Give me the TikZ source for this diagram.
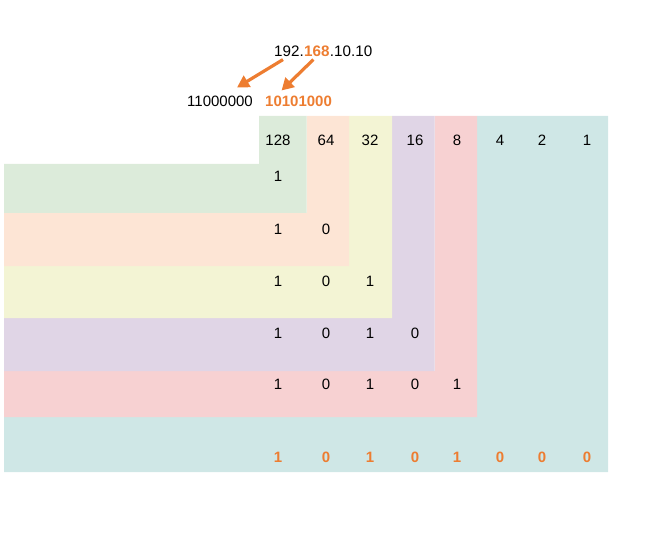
\documentclass[tikz,border=0pt]{standalone}
\usepackage{fontspec}
\setmainfont{Liberation Sans}
\usetikzlibrary{arrows.meta, positioning}

\definecolor{hlorange}{RGB}{237,125,49}
\definecolor{bandgreen}{RGB}{220,235,218}
\definecolor{bandpeach}{RGB}{253,229,213}
\definecolor{bandyellow}{RGB}{243,244,212}
\definecolor{bandpurple}{RGB}{224,213,230}
\definecolor{bandred}{RGB}{247,209,210}
\definecolor{bandteal}{RGB}{207,231,230}

\begin{document}
\begin{tikzpicture}[x=1pt, y=-1pt,
    ipnum/.style={inner sep=0pt, font=\fontsize{15.2}{18}\selectfont},
    binnum/.style={inner sep=0pt, font=\fontsize{15}{18}\selectfont},
    cell/.style={font=\fontsize{15}{18}\selectfont},
    hl/.style={text=hlorange},
    convarrow/.style={draw=hlorange, line width=3.2pt, -{Triangle[length=12pt,width=13pt]}}]
    \useasboundingbox (0,0) rectangle (653,556);

    % colour bands, outermost first
    \fill[bandteal] (477,116) -- (608,116) -- (608,472) -- (4,472) -- (4,417) -- (477,417) -- cycle;
    \fill[bandred] (434.5,116) -- (477,116) -- (477,417) -- (4,417) -- (4,371) -- (434.5,371) -- cycle;
    \fill[bandpurple] (392,116) -- (434.5,116) -- (434.5,371) -- (4,371) -- (4,318) -- (392,318) -- cycle;
    \fill[bandyellow] (349,116) -- (392,116) -- (392,318) -- (4,318) -- (4,266) -- (349,266) -- cycle;
    \fill[bandpeach] (306.5,116) -- (349,116) -- (349,266) -- (4,266) -- (4,213) -- (306.5,213) -- cycle;
    \fill[bandgreen] (259,116) -- (306.5,116) -- (306.5,213) -- (4,213) -- (4,164) -- (259,164) -- cycle;

    % dotted address and its binary octets
    \node[ipnum, anchor=west] (oa) at (274,51) {192.};
    \node[ipnum, hl, right=0pt of oa] (ob) {\bfseries 168};
    \node[ipnum, right=0pt of ob] (oc) {.10.10};
    \node[binnum, anchor=west] (b1) at (187,101) {11000000};
    \node[binnum, hl, anchor=west] (b2) at (265,101) {\bfseries 10101000};
    \draw[convarrow] ([xshift=-6pt,yshift=-3pt]oa.south) -- ([xshift=17pt,yshift=8pt]b1.north);
    \draw[convarrow] ([xshift=-3.5pt,yshift=-3pt]ob.south) -- ([xshift=-17pt,yshift=5pt]b2.north);

    % place values
    \foreach \v/\x [count=\i] in {128/278, 64/326, 32/370, 16/415, 8/457, 4/500, 2/542, 1/587}
        \node[cell] (h\i) at (\x,140) {\v};

    % bits found step by step
    \foreach \y [count=\r] in {176, 229, 281, 333, 384}
        \foreach \bit/\x [count=\c] in {1/278, 0/326, 1/370, 0/415, 1/457}
            {\ifnum\c>\r\else \node[cell] (r\r c\c) at (\x,\y) {\bit};\fi}

    % result
    \foreach \bit/\x [count=\i] in {1/278, 0/326, 1/370, 0/415, 1/457, 0/500, 0/542, 0/587}
        \node[cell, hl] (f\i) at (\x,457) {\bfseries\bit};
\end{tikzpicture}
\end{document}
